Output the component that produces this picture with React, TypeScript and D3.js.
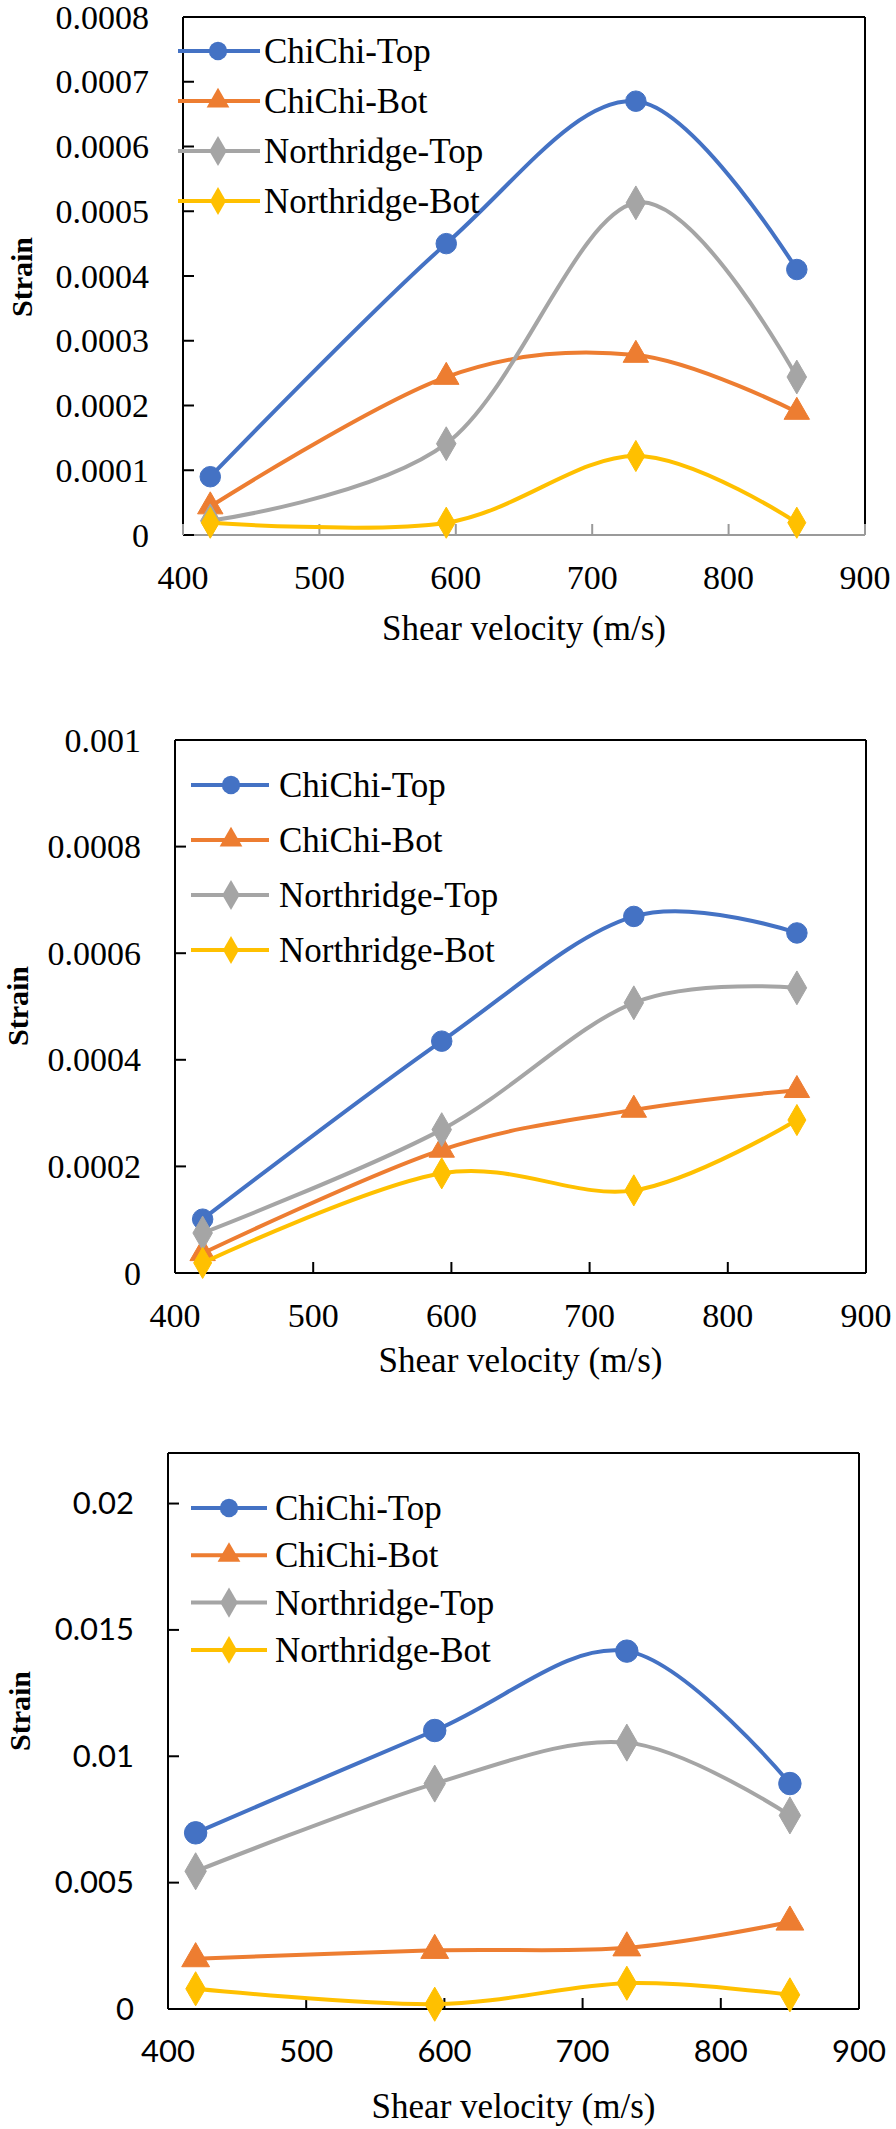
import React from "react";
import * as d3 from "d3";

// ---------- data ----------
const velocities = [420, 593, 732, 850];
const seriesNames = ["ChiChi-Top", "ChiChi-Bot", "Northridge-Top", "Northridge-Bot"];
const seriesColors = ["#4472C4", "#ED7D31", "#A5A5A5", "#FFC000"];
const xTicks = [400, 500, 600, 700, 800, 900];

// panel 1
const p1ChiChiTop = [0.00009, 0.00045, 0.00067, 0.00041];
const p1ChiChiBot = [0.000044, 0.000244, 0.000278, 0.00019];
const p1NorthTop = [0.000022, 0.000141, 0.000513, 0.000244];
const p1NorthBot = [0.000019, 0.000019, 0.000122, 0.000019];
const p1YTicks = [0, 0.0001, 0.0002, 0.0003, 0.0004, 0.0005, 0.0006, 0.0007, 0.0008];
const p1YLabels = ["0", "0.0001", "0.0002", "0.0003", "0.0004", "0.0005", "0.0006", "0.0007", "0.0008"];

// panel 2
const p2ChiChiTop = [0.000101, 0.000435, 0.000669, 0.000638];
const p2ChiChiBot = [0.000037, 0.000231, 0.000306, 0.000343];
const p2NorthTop = [0.000075, 0.000269, 0.000507, 0.000535];
const p2NorthBot = [0.000019, 0.000187, 0.000155, 0.000287];
const p2YTicks = [0, 0.0002, 0.0004, 0.0006, 0.0008, 0.001];
const p2YLabels = ["0", "0.0002", "0.0004", "0.0006", "0.0008", "0.001"];

// panel 3
const p3ChiChiTop = [0.00697, 0.01102, 0.01416, 0.00892];
const p3ChiChiBot = [0.00199, 0.00232, 0.00242, 0.00344];
const p3NorthTop = [0.00545, 0.00892, 0.01054, 0.00766];
const p3NorthBot = [0.0008, 0.00019, 0.00102, 0.00056];
const p3YTicks = [0, 0.005, 0.01, 0.015, 0.02];
const p3YLabels = ["0", "0.005", "0.01", "0.015", "0.02"];

const SERIF = "Liberation Serif, Tinos, Times New Roman, Times, DejaVu Serif, serif";
const SANS = "Lato, Open Sans, sans-serif";

type PanelCfg = {
  series: number[][];
  yTicks: number[];
  yLabels: string[];
  yMax: number;
  left: number; right: number; top: number; bottom: number;
  tickFont: string; tickSize: number;
  bottomColor: string;
  yTitleX: number; yTitleY: number;
  xTitleY: number;
  legLine: [number, number]; legMarker: number; legText: number; legY0: number; legDy: number;
  markerScale: number;
};

const panels: PanelCfg[] = [
  {
    series: [p1ChiChiTop, p1ChiChiBot, p1NorthTop, p1NorthBot],
    yTicks: p1YTicks, yLabels: p1YLabels, yMax: 0.0008,
    left: 183, right: 865, top: 17, bottom: 535,
    tickFont: SERIF, tickSize: 34, bottomColor: "#9a9a9a",
    yTitleX: 22, yTitleY: 277, xTitleY: 628,
    legLine: [178, 260], legMarker: 218, legText: 264, legY0: 51, legDy: 50,
    markerScale: 1,
  },
  {
    series: [p2ChiChiTop, p2ChiChiBot, p2NorthTop, p2NorthBot],
    yTicks: p2YTicks, yLabels: p2YLabels, yMax: 0.001,
    left: 175, right: 866, top: 740, bottom: 1273,
    tickFont: SERIF, tickSize: 34, bottomColor: "#000",
    yTitleX: 18, yTitleY: 1006, xTitleY: 1360,
    legLine: [191, 269], legMarker: 231, legText: 279, legY0: 785, legDy: 55,
    markerScale: 1,
  },
  {
    series: [p3ChiChiTop, p3ChiChiBot, p3NorthTop, p3NorthBot],
    yTicks: p3YTicks, yLabels: p3YLabels, yMax: 0.022,
    left: 168, right: 859, top: 1453, bottom: 2009,
    tickFont: SANS, tickSize: 31, bottomColor: "#000",
    yTitleX: 20, yTitleY: 1711, xTitleY: 2106,
    legLine: [191, 267], legMarker: 229, legText: 275, legY0: 1508, legDy: 47.3,
    markerScale: 1.2,
  },
];

const symbolTypes = [d3.symbolCircle, d3.symbolTriangle, d3.symbolDiamond, d3.symbolDiamond];
const symbolSizes = [330, 280, 330, 280];

function Panel({ cfg }: { cfg: PanelCfg }) {
  const x = d3.scaleLinear().domain([400, 900]).range([cfg.left, cfg.right]);
  const y = d3.scaleLinear().domain([0, cfg.yMax]).range([cfg.bottom, cfg.top]);
  const line = d3
    .line<[number, number]>()
    .x((d) => x(d[0]))
    .y((d) => y(d[1]))
    .curve(d3.curveCatmullRom.alpha(0));
  const tickLen = 11;
  return (
    <g>
      {/* frame */}
      <line x1={cfg.left} x2={cfg.right} y1={cfg.top} y2={cfg.top} stroke="#000" strokeWidth={2} />
      <line x1={cfg.left} x2={cfg.left} y1={cfg.top} y2={cfg.bottom} stroke="#000" strokeWidth={2} />
      <line x1={cfg.right} x2={cfg.right} y1={cfg.top} y2={cfg.bottom} stroke="#000" strokeWidth={2} />
      <line x1={cfg.left} x2={cfg.right} y1={cfg.bottom} y2={cfg.bottom} stroke={cfg.bottomColor} strokeWidth={2} />
      {/* y ticks */}
      {cfg.yTicks.map((t, i) => (
        <g key={"yt" + i}>
          <line x1={cfg.left} x2={cfg.left + tickLen} y1={y(t)} y2={y(t)} stroke="#000" strokeWidth={2} />
          <text
            x={cfg.left - 34}
            y={y(t)}
            dy="0.34em"
            textAnchor="end"
            style={{ fontFamily: cfg.tickFont }}
            fontSize={cfg.tickSize}
            fill="#000"
          >
            {cfg.yLabels[i]}
          </text>
        </g>
      ))}
      {/* x ticks */}
      {xTicks.map((t, i) => (
        <g key={"xt" + i}>
          <line x1={x(t)} x2={x(t)} y1={cfg.bottom} y2={cfg.bottom - tickLen} stroke={cfg.bottomColor} strokeWidth={2} />
          <text
            x={x(t)}
            y={cfg.bottom + 42}
            dy="0.34em"
            textAnchor="middle"
            style={{ fontFamily: cfg.tickFont }}
            fontSize={cfg.tickSize}
            fill="#000"
          >
            {t}
          </text>
        </g>
      ))}
      {/* titles */}
      <text
        transform={`translate(${cfg.yTitleX},${cfg.yTitleY}) rotate(-90)`}
        textAnchor="middle"
        dy="0.34em"
        style={{ fontFamily: SERIF }}
        fontWeight="bold"
        fontSize={30}
        fill="#000"
      >
        Strain
      </text>
      <text
        x={(cfg.left + cfg.right) / 2}
        y={cfg.xTitleY}
        dy="0.34em"
        textAnchor="middle"
        style={{ fontFamily: SERIF }}
        fontSize={35}
        fill="#000"
      >
        Shear velocity (m/s)
      </text>
      {/* series */}
      {cfg.series.map((vals, si) => {
        const pts = vals.map((v, i) => [velocities[i], v] as [number, number]);
        const sym = d3.symbol().type(symbolTypes[si]).size(symbolSizes[si] * cfg.markerScale)();
        return (
          <g key={"s" + si}>
            <path d={line(pts) || ""} fill="none" stroke={seriesColors[si]} strokeWidth={4} strokeLinecap="round" />
            {pts.map((p, i) => (
              <path
                key={i}
                d={sym || ""}
                transform={`translate(${x(p[0])},${y(p[1])})`}
                fill={seriesColors[si]}
                stroke={seriesColors[si]}
                strokeWidth={1}
              />
            ))}
          </g>
        );
      })}
      {/* legend */}
      {seriesNames.map((name, si) => {
        const ly = cfg.legY0 + si * cfg.legDy;
        const sym = d3.symbol().type(symbolTypes[si]).size(symbolSizes[si] * 0.8)();
        return (
          <g key={"l" + si}>
            <line x1={cfg.legLine[0]} x2={cfg.legLine[1]} y1={ly} y2={ly} stroke={seriesColors[si]} strokeWidth={4} />
            <path d={sym || ""} transform={`translate(${cfg.legMarker},${ly})`} fill={seriesColors[si]} />
            <text x={cfg.legText} y={ly} dy="0.34em" style={{ fontFamily: SERIF }} fontSize={35} fill="#000">
              {name}
            </text>
          </g>
        );
      })}
    </g>
  );
}

export default function App() {
  return (
    <svg
      width={896}
      height={2129}
      viewBox="0 0 896 2129"
      style={{ position: "absolute", left: 0, top: 0, background: "#fff" }}
    >
      <rect x={0} y={0} width={896} height={2129} fill="#fff" />
      {panels.map((p, i) => (
        <Panel key={i} cfg={p} />
      ))}
    </svg>
  );
}
